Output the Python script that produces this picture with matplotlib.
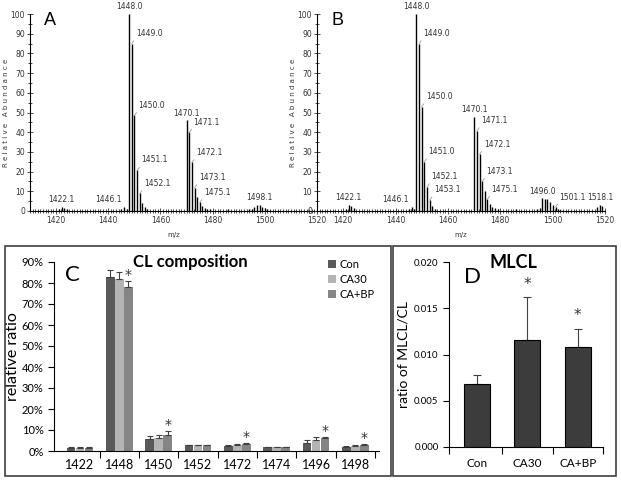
import numpy as np
import matplotlib.pyplot as plt
from matplotlib.patches import Rectangle
from matplotlib.ticker import MultipleLocator, PercentFormatter

# spectrum A (m/z, relative abundance)
mz_a = [1421, 1422.1, 1423, 1424, 1445, 1446.1, 1447, 1448.0, 1449.0, 1450.0,
        1451.1, 1452.1, 1453, 1454, 1455, 1470.1, 1471.1, 1472.1, 1473.1, 1474,
        1475.1, 1476, 1477, 1478, 1479, 1486, 1494, 1495, 1496, 1497, 1498.1,
        1499, 1500, 1501, 1502]
int_a = [0.8, 1.9, 1.6, 1.0, 0.8, 2.2, 1.0, 100, 85, 48.5,
         20.8, 9.0, 4.0, 1.8, 0.8, 46, 40, 24.7, 11.9, 7.3,
         4.4, 2.7, 1.5, 1.2, 0.8, 0.8, 0.8, 1.0, 1.8, 3.0, 3.0,
         2.2, 1.6, 1.0, 0.6]
labels_a = [1422.1, 1446.1, 1448.0, 1449.0, 1450.0, 1451.1, 1452.1,
            1470.1, 1471.1, 1472.1, 1473.1, 1475.1, 1498.1]

# spectrum B
mz_b = [1421, 1422.1, 1423, 1424, 1445, 1446.1, 1447, 1448.0, 1449.0, 1450.0,
        1451.0, 1452.1, 1453.1, 1454, 1455, 1470.1, 1471.1, 1472.1, 1473.1, 1474,
        1475.1, 1476, 1477, 1478, 1479, 1486, 1494, 1495, 1496.0, 1497, 1498,
        1499, 1500, 1501.1, 1502, 1503, 1517, 1518.1, 1519]
int_b = [1.0, 3.0, 2.5, 1.5, 0.8, 2.0, 1.2, 100, 85, 53,
         25, 12.4, 5.6, 2.5, 1.0, 47.6, 40.8, 28.8, 15, 10,
         6.0, 3.5, 2.2, 1.5, 0.9, 0.8, 1.0, 1.5, 6.4, 6.0, 6.2,
         4.7, 3.0, 2.0, 1.0, 0.6, 2.0, 3.0, 2.5]
labels_b = [1422.1, 1446.1, 1448.0, 1449.0, 1450.0, 1451.0, 1452.1, 1453.1,
            1470.1, 1471.1, 1472.1, 1473.1, 1475.1, 1496.0, 1501.1, 1518.1]
centered = [1422.1, 1448.0, 1470.1, 1498.1, 1496.0, 1518.1]
left_side = [1446.1]

# panel C: CL composition (%)
species = ['1422', '1448', '1450', '1452', '1472', '1474', '1496', '1498']
groups = ['Con', 'CA30', 'CA+BP']
con = [1.5, 83.0, 5.7, 2.7, 2.6, 1.7, 4.0, 2.0]
ca30 = [1.5, 82.0, 6.3, 2.7, 2.9, 1.8, 5.3, 2.4]
cabp = [1.6, 78.3, 7.5, 2.8, 3.3, 1.9, 6.1, 2.9]
con_err = [0.2, 3.2, 1.6, 0.2, 0.4, 0.2, 1.2, 0.3]
ca30_err = [0.2, 3.2, 1.5, 0.2, 0.4, 0.2, 1.3, 0.3]
cabp_err = [0.2, 2.7, 1.9, 0.2, 0.5, 0.2, 0.6, 0.4]
star_c = [False, True, True, False, True, False, True, True]

# panel D: MLCL/CL
d_groups = ['Con', 'CA30', 'CA+BP']
d_vals = [0.0068, 0.0116, 0.0108]
d_err = [0.0010, 0.0046, 0.0020]
d_star = [False, True, True]

W, H = 621, 482
fig = plt.figure(figsize=(W / 100, H / 100), dpi=100)


def rect(l, t, r, b):
    return [l / W, 1 - b / H, (r - l) / W, (b - t) / H]


def spectrum(ax, mz, inten, labels, letter):
    ax.vlines(mz, 0, inten, color='black', lw=1.0)
    ax.set_xlim(1410, 1520)
    ax.set_ylim(0, 100)
    for s in ['top', 'right']:
        ax.spines[s].set_visible(False)
    ax.xaxis.set_major_locator(MultipleLocator(20))
    ax.xaxis.set_minor_locator(MultipleLocator(1))
    ax.yaxis.set_major_locator(MultipleLocator(10))
    ax.yaxis.set_minor_locator(MultipleLocator(5))
    ax.tick_params(which='both', direction='inout', labelsize=5.5, colors='#333333',
                   width=0.6, pad=1.5)
    ax.tick_params(which='major', length=4)
    ax.tick_params(which='minor', length=2.5)
    ax.set_xlabel('m/z', fontsize=5, color='#333333', labelpad=5)
    ax.set_ylabel('R e l a t i v e   A b u n d a n c e', fontsize=5, color='#333333', labelpad=1)
    ax.text(0.049, 1.01, letter, transform=ax.transAxes, fontsize=13, va='top',
            family='Liberation Sans')
    for m in labels:
        y = inten[mz.index(m)]
        if m in centered:
            ax.annotate(f'{m:.1f}', (m, y), xytext=(0, 2), textcoords='offset points',
                        ha='center', va='bottom', fontsize=5.5, color='#333333',
                        annotation_clip=False)
        elif m in left_side:
            ax.annotate(f'{m:.1f}', (m, y), xytext=(-2, 2), textcoords='offset points',
                        ha='right', va='bottom', fontsize=5.5, color='#333333',
                        arrowprops=dict(arrowstyle='-', color='#999999', lw=0.6,
                                        shrinkA=0, shrinkB=0, relpos=(1, 0)),
                        annotation_clip=False)
        else:
            ax.annotate(f'{m:.1f}', (m, y), xytext=(3, 4), textcoords='offset points',
                        ha='left', va='bottom', fontsize=5.5, color='#333333',
                        arrowprops=dict(arrowstyle='-', color='#999999', lw=0.6,
                                        shrinkA=0, shrinkB=0, relpos=(0, 0)),
                        annotation_clip=False)


ax_a = fig.add_axes(rect(30, 14, 317, 211))
spectrum(ax_a, mz_a, int_a, labels_a, 'A')
ax_b = fig.add_axes(rect(317, 14, 605, 211))
spectrum(ax_b, mz_b, int_b, labels_b, 'B')

# frames around C and D
fig.patches.append(Rectangle((5 / W, 1 - 476 / H), 386 / W, 230 / H, transform=fig.transFigure,
                             fill=False, ec='#404040', lw=1.2))
fig.patches.append(Rectangle((393 / W, 1 - 476 / H), 223 / W, 230 / H, transform=fig.transFigure,
                             fill=False, ec='#404040', lw=1.2))

# panel C
font = 'Lato'
ax_c = fig.add_axes(rect(54, 262, 379, 451))
x = np.arange(len(species))
w = 0.22
cols = ['#5a5a5a', '#b4b4b4', '#858585']
vals = [con, ca30, cabp]
errs = [con_err, ca30_err, cabp_err]
for i in range(3):
    xs = x + (i - 1) * (w + 0.01)
    ax_c.bar(xs, vals[i], w, color=cols[i], label=groups[i], zorder=2)
    ax_c.errorbar(xs, vals[i], yerr=[np.zeros(len(x)), errs[i]], fmt='none',
                  ecolor='#404040', elinewidth=0.8, capsize=2.5, capthick=0.8, zorder=3)
for j in range(len(x)):
    if star_c[j]:
        ax_c.text(x[j] + w + 0.01, cabp[j] + cabp_err[j] + 2.8, '*', ha='center',
                  va='center', fontsize=10, color='#333333')
ax_c.set_xlim(-0.66, 7.6)
ax_c.set_ylim(0, 90)
ax_c.yaxis.set_major_locator(MultipleLocator(10))
ax_c.yaxis.set_major_formatter(PercentFormatter(decimals=0))
ax_c.set_xticks(x)
ax_c.set_xticklabels(species, family=font, fontsize=9)
ax_c.set_xticks(np.arange(0.5, 8, 1), minor=True)
ax_c.tick_params(axis='x', which='major', length=0, pad=6)
ax_c.tick_params(axis='x', which='minor', length=5, width=0.8)
ax_c.tick_params(axis='y', labelsize=8, length=4, width=0.8)
for t in ax_c.get_yticklabels():
    t.set_family(font)
for s in ['top', 'right']:
    ax_c.spines[s].set_visible(False)
ax_c.set_ylabel('relative ratio', family=font, fontsize=11.5, labelpad=1)
ax_c.text(0.42, 1.0, 'CL composition', transform=ax_c.transAxes, family=font,
          fontsize=12, fontweight='bold', ha='center', va='center')
ax_c.text(0.035, 0.93, 'C', transform=ax_c.transAxes, family=font, fontsize=16, va='center')
ax_c.legend(loc='upper right', bbox_to_anchor=(1.0, 1.04), frameon=False,
            prop={'family': font, 'size': 8}, handlelength=0.7, handleheight=0.7,
            handletextpad=0.3, labelspacing=0.35, borderaxespad=0)

# panel D
ax_d = fig.add_axes(rect(449, 262, 603, 447))
xd = np.arange(len(d_groups))
ax_d.bar(xd, d_vals, 0.52, color='#3c3c3c', edgecolor='black', lw=0.8, zorder=2)
ax_d.errorbar(xd, d_vals, yerr=[np.zeros(3), d_err], fmt='none', ecolor='#404040',
              elinewidth=0.8, capsize=3, capthick=0.8, zorder=1)
for j in range(3):
    if d_star[j]:
        ax_d.text(xd[j], d_vals[j] + d_err[j] + 0.0006, '*', ha='center', va='bottom',
                  fontsize=11, color='#333333')
ax_d.set_xlim(-0.55, 2.5)
ax_d.set_ylim(0, 0.02)
ax_d.yaxis.set_major_locator(MultipleLocator(0.005))
ax_d.yaxis.set_major_formatter(plt.FormatStrFormatter('%.3f'))
ax_d.set_xticks(xd)
ax_d.set_xticklabels(d_groups, family=font, fontsize=8.5)
ax_d.set_xticks([-0.55, 0.5, 1.5, 2.5], minor=True)
ax_d.tick_params(axis='x', which='major', length=0, pad=8)
ax_d.tick_params(axis='x', which='minor', length=5, width=0.8)
ax_d.tick_params(axis='y', labelsize=7, length=4, width=0.8)
for t in ax_d.get_yticklabels():
    t.set_family(font)
for s in ['top', 'right']:
    ax_d.spines[s].set_visible(False)
ax_d.set_ylabel('ratio of MLCL/CL', family=font, fontsize=10, labelpad=3)
ax_d.text(0.42, 1.0, 'MLCL', transform=ax_d.transAxes, family=font,
          fontsize=13, fontweight='bold', ha='center', va='center')
ax_d.text(0.1, 0.92, 'D', transform=ax_d.transAxes, family=font, fontsize=16, va='center')

fig.savefig('out.png', dpi=100)
